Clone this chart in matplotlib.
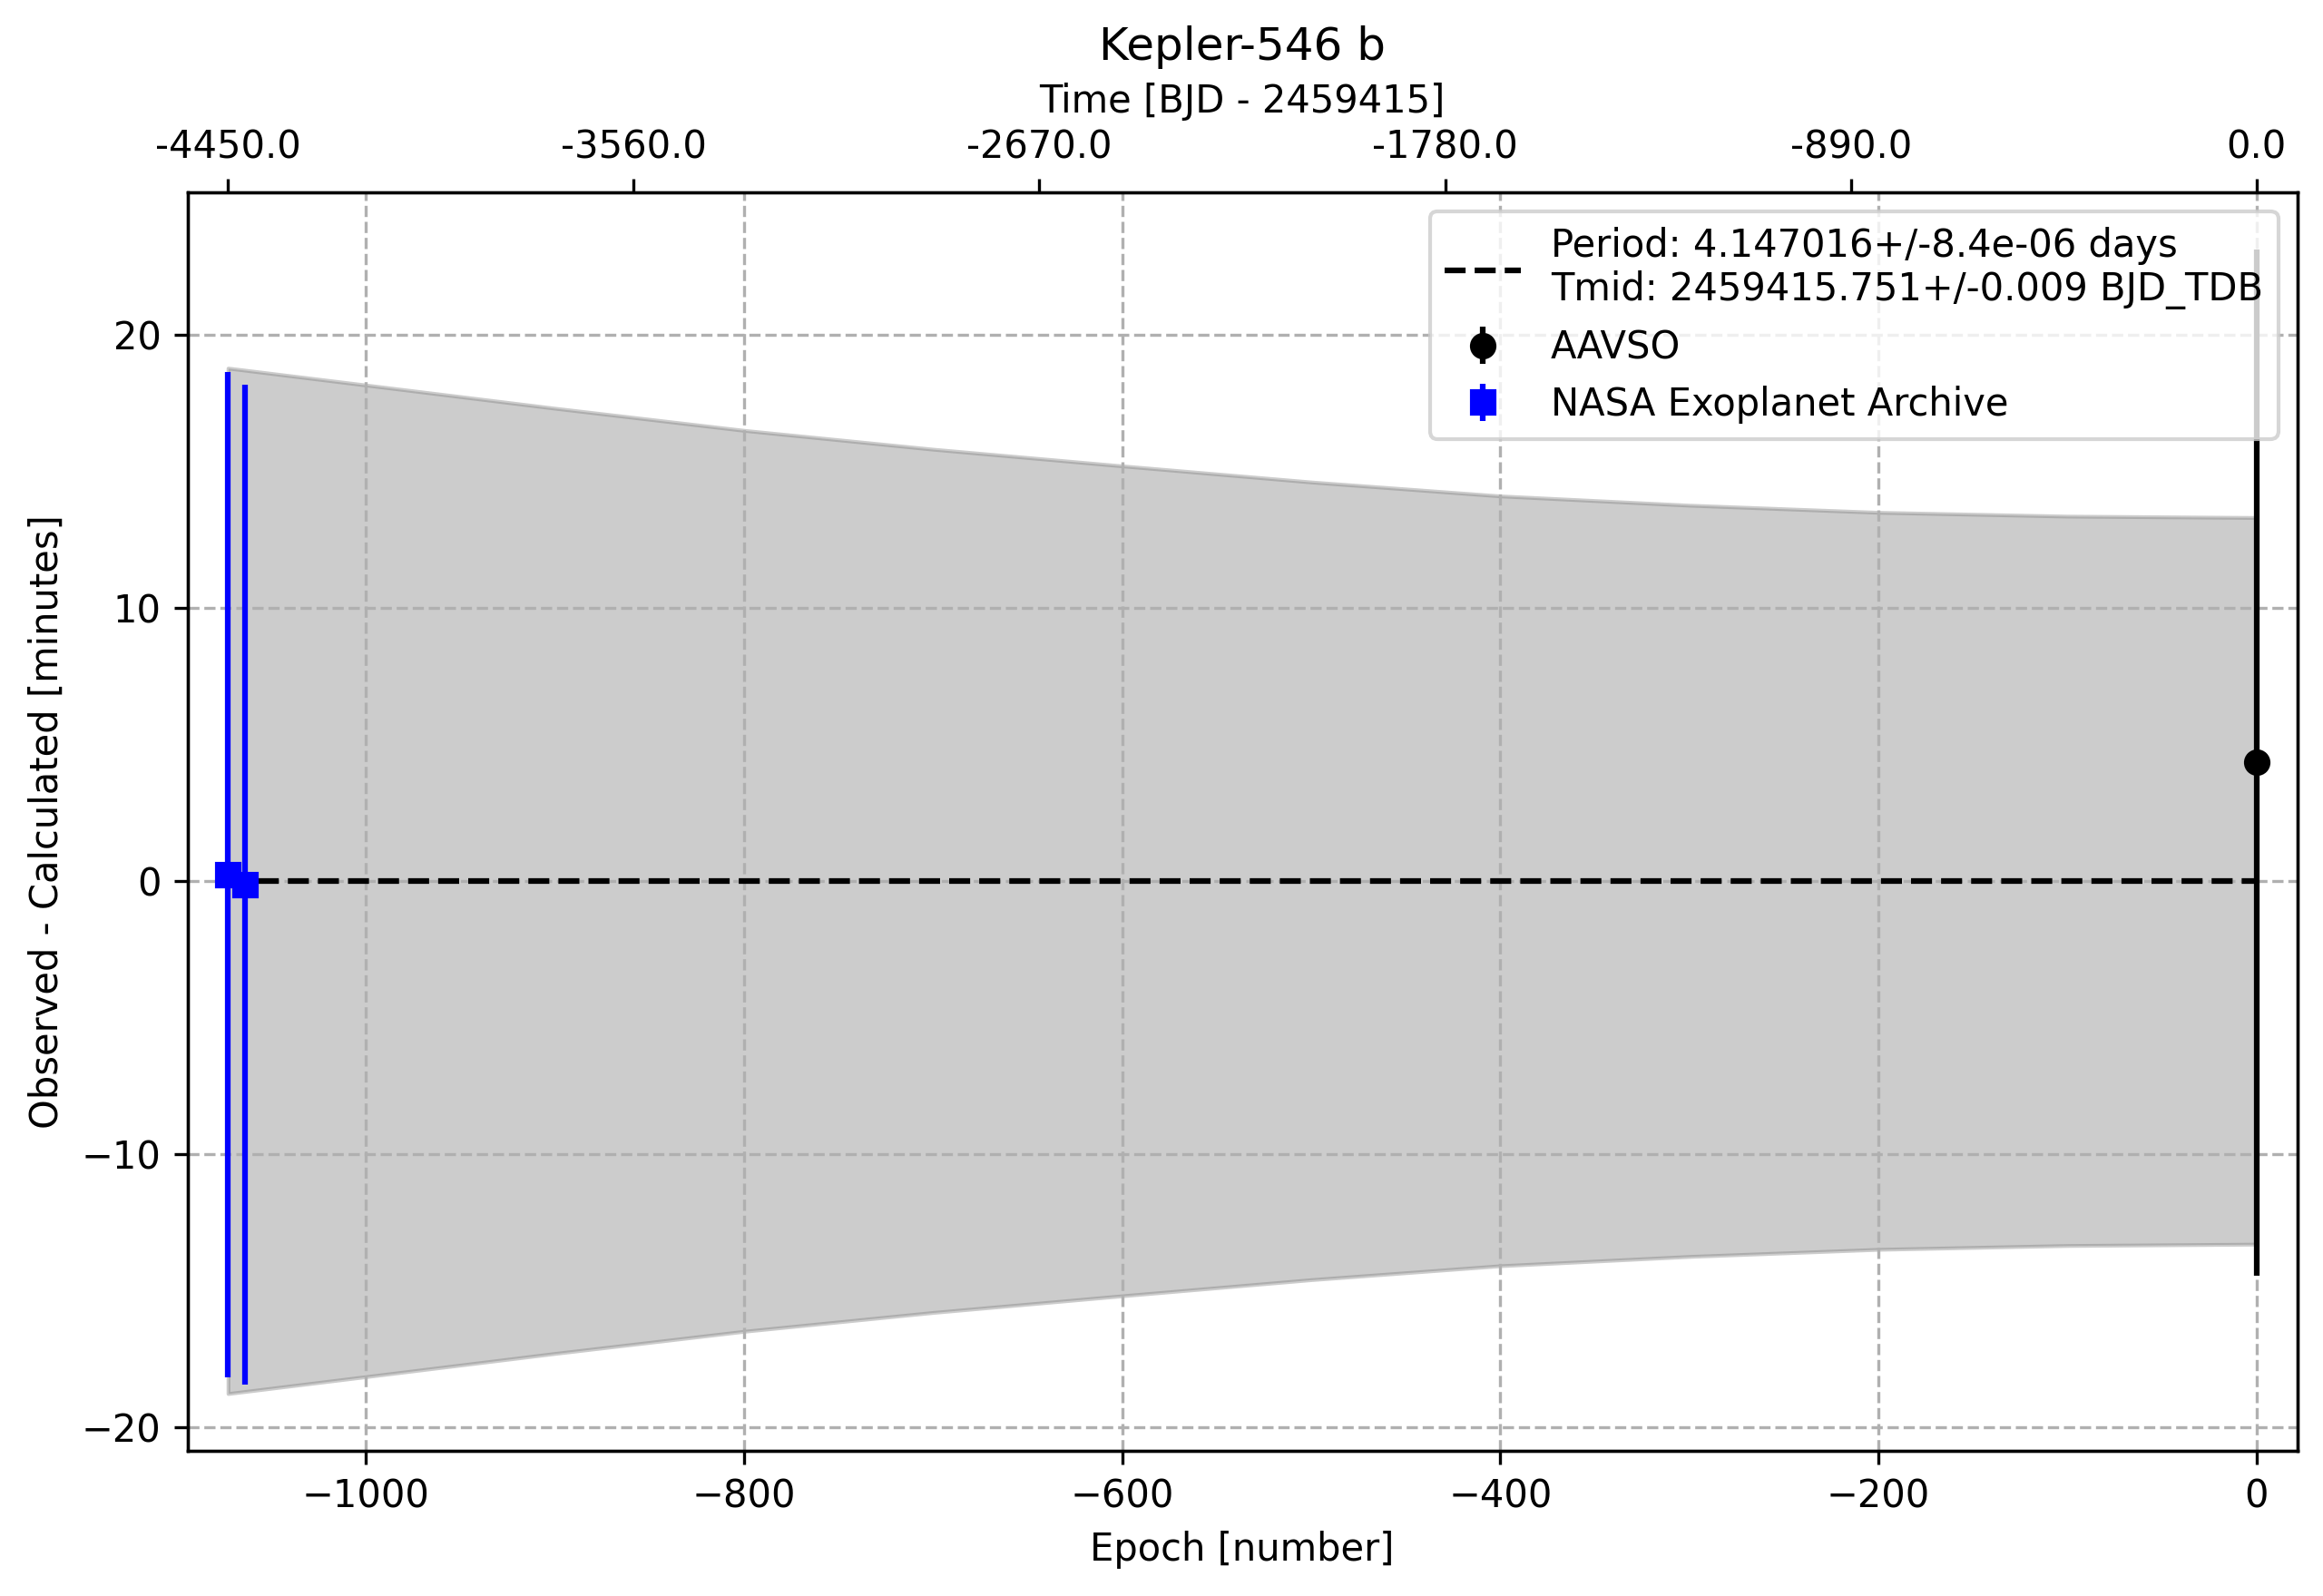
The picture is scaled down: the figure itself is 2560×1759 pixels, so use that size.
import numpy as np
import matplotlib
matplotlib.use("Agg")
import matplotlib.pyplot as plt

# ---- values ----
period = 4.147016          # days
nasa_epoch = [-1073, -1064]
nasa_oc = [0.23, -0.14]    # minutes
nasa_err = [18.39, 18.31]

aavso_epoch = [0]
aavso_oc = [4.33]
aavso_err = [18.77]

# uncertainty envelope (minutes)
fill_epoch = [-1073, -1000, -900, -800, -700, -600, -500, -400, -300, -200, -100, 0]
fill_upper = [18.77, 18.15, 17.30, 16.49, 15.80, 15.19, 14.60, 14.09, 13.75, 13.49, 13.35, 13.30]
fill_lower = [-18.77, -18.15, -17.30, -16.49, -15.80, -15.19, -14.60, -14.09, -13.75, -13.49, -13.35, -13.30]

top_times = [-4450.0, -3560.0, -2670.0, -1780.0, -890.0, 0.0]

fit_label = ("Period: 4.147016+/-8.4e-06 days\n"
             "Tmid: 2459415.751+/-0.009 BJD_TDB")

# ---- plot ----
fig, ax = plt.subplots(figsize=(2560 / 300, 1759 / 300), dpi=300)
fig.subplots_adjust(left=0.0807, right=0.9889, bottom=0.0910, top=0.8793)

ax.fill_between(fill_epoch, fill_lower, fill_upper, color='gray', alpha=0.4)
ax.errorbar(aavso_epoch, aavso_oc, yerr=aavso_err, fmt='o', color='black',
            label='AAVSO')
ax.errorbar(nasa_epoch, nasa_oc, yerr=nasa_err, fmt='s', color='blue',
            label='NASA Exoplanet Archive')
ax.plot([min(fill_epoch), max(fill_epoch)], [0, 0], 'k--', label=fit_label)

span = max(fill_epoch) - min(fill_epoch)
ax.set_xlim(min(fill_epoch) - 0.02 * span, max(fill_epoch) + 0.02 * span)
ax.set_xlabel('Epoch [number]')
ax.set_ylabel('Observed - Calculated [minutes]')
ax.grid(True, ls='--')
ax.legend(loc='upper right')

ax2 = ax.twiny()
ax2.set_xlim(ax.get_xlim())
ax2.set_xticks([t / period for t in top_times])
ax2.set_xticklabels([f"{t:.1f}" for t in top_times])
ax2.set_xlabel('Time [BJD - 2459415]')
ax2.set_title('Kepler-546 b')

fig.savefig('out.png', dpi=300)
